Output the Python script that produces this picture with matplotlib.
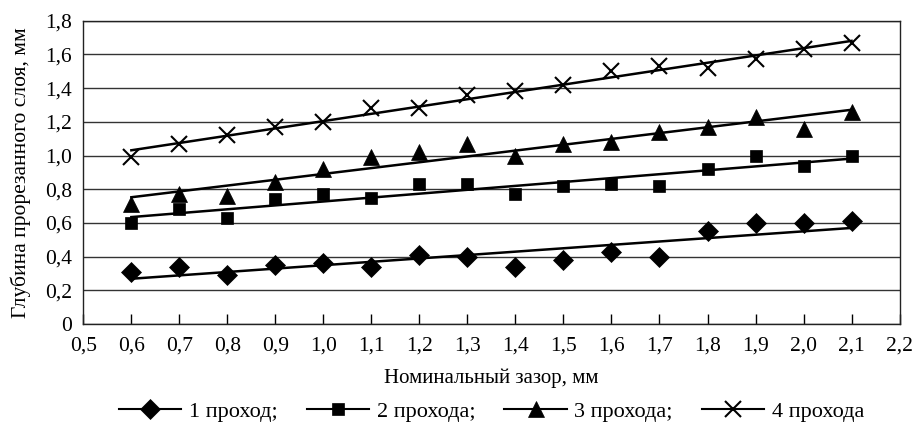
import matplotlib
matplotlib.use("Agg")
import numpy as np
import matplotlib.pyplot as plt
from matplotlib.lines import Line2D

plt.rcParams['font.family'] = ['Liberation Serif', 'DejaVu Serif']

# data
gap = [0.6, 0.7, 0.8, 0.9, 1.0, 1.1, 1.2, 1.3, 1.4, 1.5, 1.6, 1.7, 1.8, 1.9, 2.0, 2.1]
pass1 = [0.31, 0.34, 0.29, 0.35, 0.36, 0.34, 0.41, 0.40, 0.34, 0.38, 0.43, 0.40, 0.55, 0.60, 0.60, 0.61]
pass2 = [0.60, 0.68, 0.63, 0.74, 0.77, 0.75, 0.83, 0.83, 0.77, 0.82, 0.83, 0.82, 0.92, 1.00, 0.94, 1.00]
pass3 = [0.71, 0.77, 0.76, 0.84, 0.92, 0.99, 1.02, 1.07, 1.00, 1.07, 1.08, 1.14, 1.17, 1.23, 1.16, 1.26]
pass4 = [0.99, 1.07, 1.12, 1.17, 1.20, 1.28, 1.28, 1.36, 1.38, 1.42, 1.50, 1.53, 1.52, 1.57, 1.63, 1.67]

labels = ["1 проход;", "2 прохода;", "3 прохода;", "4 прохода"]
markers = ["D", "s", "^", "x"]
msizes = [10.5, 8.5, 11, 11]

xticks = [0.5, 0.6, 0.7, 0.8, 0.9, 1.0, 1.1, 1.2, 1.3, 1.4, 1.5, 1.6, 1.7, 1.8, 1.9, 2.0, 2.1, 2.2]
yticks = [0, 0.2, 0.4, 0.6, 0.8, 1.0, 1.2, 1.4, 1.6, 1.8]

fig = plt.figure(figsize=(9.14, 4.24), dpi=100)
ax = fig.add_axes([0.0912, 0.2358, 0.893, 0.7154])

x = np.array(gap)
handles = []
for ys, m, ms, lab in zip([pass1, pass2, pass3, pass4], markers, msizes, labels):
    ys = np.array(ys)
    k, b = np.polyfit(x, ys, 1)   # linear trend
    mew = 1.5 if m == 'x' else 0.5
    ax.plot(x, k * x + b, color='black', lw=1.8, zorder=3)
    ax.plot(x, ys, linestyle='none', marker=m, ms=ms, color='black', mew=mew, zorder=4)
    handles.append(Line2D([], [], color='black', lw=1.5, marker=m, ms=ms, mew=mew))

ax.set_xlim(0.5, 2.2)
ax.set_ylim(0, 1.8)
ax.set_xticks(xticks)
ax.set_xticklabels([f"{t:.1f}".replace('.', ',') for t in xticks])
ax.set_yticks(yticks)
ax.set_yticklabels(["0"] + [f"{t:.1f}".replace('.', ',') for t in yticks[1:]])
ax.tick_params(axis='x', direction='in', length=7, width=1, labelsize=15.5, pad=9)
ax.tick_params(axis='y', length=0, labelsize=15.5, pad=8)
ax.grid(axis='y', color='#333333', lw=1)
ax.set_axisbelow(True)
for s in ax.spines.values():
    s.set_color('#222222')
    s.set_linewidth(1)

ax.set_xlabel("Номинальный зазор, мм", fontsize=15, labelpad=9)
ax.set_ylabel("Глубина прорезанного слоя, мм", fontsize=15.5, labelpad=10)

fig.legend(handles, labels, loc='center', bbox_to_anchor=(0.538, 0.03), ncol=4,
           frameon=False, fontsize=16, handlelength=2.8, handletextpad=0.35,
           columnspacing=1.3, borderaxespad=0)

fig.savefig("out.png", dpi=100)
